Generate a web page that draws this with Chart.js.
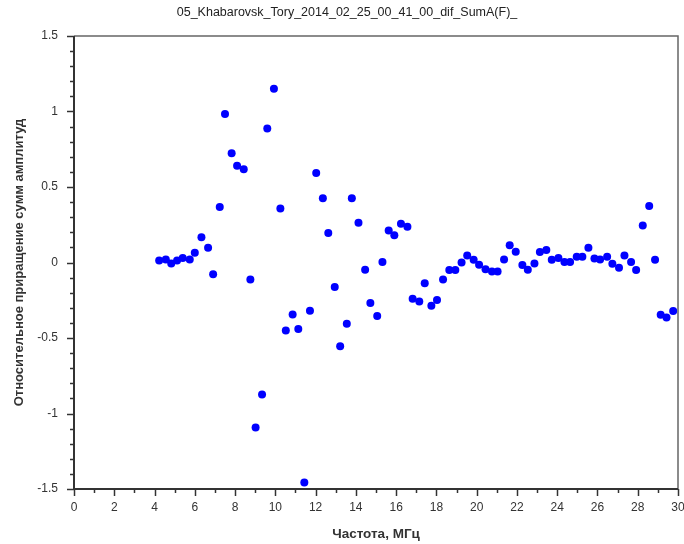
<!DOCTYPE html>
<html>
<head>
<meta charset="utf-8">
<script src="https://cdn.jsdelivr.net/npm/chart.js@4"></script>
<style>
  body { margin: 0; background: #fff; }
  #wrap { width: 684px; height: 544px; }
</style>
</head>
<body>
<div id="wrap"><canvas id="chart" width="684" height="544"></canvas></div>
<script>
// frequency, MHz
const freq = [
  4.23, 4.56, 4.83, 5.12, 5.40, 5.75, 6.00, 6.33, 6.66, 6.91,
  7.24, 7.50, 7.83, 8.10, 8.43, 8.76, 9.02, 9.34, 9.60, 9.93,
  10.25, 10.52, 10.86, 11.14, 11.44, 11.72, 12.03, 12.36, 12.63, 12.95,
  13.22, 13.55, 13.80, 14.13, 14.46, 14.72, 15.06, 15.32, 15.63, 15.91,
  16.24, 16.56, 16.82, 17.15, 17.42, 17.75, 18.03, 18.33, 18.64, 18.94,
  19.25, 19.53, 19.85, 20.12, 20.44, 20.76, 21.04, 21.36, 21.64, 21.94,
  22.27, 22.54, 22.87, 23.14, 23.46, 23.73, 24.06, 24.36, 24.64, 24.97,
  25.25, 25.55, 25.85, 26.13, 26.48, 26.74, 27.07, 27.34, 27.67, 27.92,
  28.25, 28.57, 28.86, 29.14, 29.43, 29.76
];
// relative increment of amplitude sums
const difSum = [
  0.013, 0.020, -0.007, 0.013, 0.030, 0.020, 0.064, 0.168, 0.097, -0.077,
  0.367, 0.983, 0.724, 0.640, 0.618, -0.112, -1.093, -0.874, 0.887, 1.150,
  0.358, -0.450, -0.344, -0.441, -1.457, -0.320, 0.592, 0.426, 0.195, -0.163,
  -0.554, -0.406, 0.426, 0.263, -0.048, -0.269, -0.355, 0.003, 0.212, 0.181,
  0.256, 0.236, -0.240, -0.258, -0.137, -0.287, -0.249, -0.112, -0.050, -0.050,
  0.000, 0.046, 0.018, -0.015, -0.044, -0.060, -0.060, 0.020, 0.115, 0.071,
  -0.017, -0.048, -0.007, 0.069, 0.082, 0.018, 0.029, 0.003, 0.003, 0.038,
  0.038, 0.097, 0.026, 0.020, 0.038, -0.009, -0.035, 0.046, 0.003, -0.050,
  0.245, 0.375, 0.018, -0.346, -0.364, -0.322
];
const xRange = [0, 30];
const yRange = [-1.5, 1.5];
const xMajor = 2, xMinor = 1;
const yMajor = 0.5, yMinor = 0.1;

const chartTitle = '05_Khabarovsk_Tory_2014_02_25_00_41_00_dif_SumA(F)_';
const xTitle = 'Частота, МГц';
const yTitle = 'Относительное приращение сумм амплитуд';

const FONT = '"Liberation Sans", Arial, sans-serif';
const points = freq.map((f, i) => ({ x: f, y: difSum[i] }));

function isMajor(v, step) {
  const r = v / step;
  return Math.abs(r - Math.round(r)) < 1e-6;
}

// frame, axis lines, ticks and the title on top
const framePlugin = {
  id: 'frame',
  afterDraw(chart) {
    const { ctx, chartArea: a, scales } = chart;
    ctx.save();
    ctx.strokeStyle = '#666';
    ctx.lineWidth = 1.5;
    ctx.beginPath();
    ctx.moveTo(a.left, a.top); ctx.lineTo(a.right, a.top); ctx.lineTo(a.right, a.bottom);
    ctx.stroke();

    ctx.strokeStyle = '#333';
    ctx.lineWidth = 2;
    ctx.beginPath();
    ctx.moveTo(a.left, a.top); ctx.lineTo(a.left, a.bottom); ctx.lineTo(a.right, a.bottom);
    ctx.stroke();

    ctx.lineWidth = 1.5;
    scales.x.ticks.forEach(t => {
      const px = Math.round(scales.x.getPixelForValue(t.value)) + 0.5;
      const len = isMajor(t.value, xMajor) ? 7 : 4;
      ctx.beginPath(); ctx.moveTo(px, a.bottom); ctx.lineTo(px, a.bottom + len); ctx.stroke();
    });
    scales.y.ticks.forEach(t => {
      const py = Math.round(scales.y.getPixelForValue(t.value)) + 0.5;
      const len = isMajor(t.value, yMajor) ? 7 : 4;
      ctx.beginPath(); ctx.moveTo(a.left, py); ctx.lineTo(a.left - len, py); ctx.stroke();
    });

    ctx.fillStyle = '#222';
    ctx.font = '12.5px ' + FONT;
    ctx.textAlign = 'center';
    ctx.textBaseline = 'middle';
    ctx.fillText(chartTitle, 347, 13);
    ctx.restore();
  }
};

new Chart(document.getElementById('chart'), {
  type: 'scatter',
  data: {
    datasets: [{
      data: points,
      backgroundColor: '#0000ff',
      borderColor: '#0000ff',
      pointRadius: 4,
      pointBorderWidth: 0
    }]
  },
  options: {
    responsive: false,
    animation: false,
    layout: { padding: { top: 36, right: 6, left: 0, bottom: 0 } },
    plugins: {
      legend: { display: false },
      tooltip: { enabled: false },
      title: { display: false }
    },
    scales: {
      x: {
        type: 'linear',
        min: xRange[0], max: xRange[1],
        afterFit(scale) {
          scale.height = 55;
          scale.paddingLeft = 0;
          scale.paddingRight = 0;
        },
        grid: { display: false, drawTicks: false },
        border: { display: false },
        ticks: {
          stepSize: xMinor,
          autoSkip: false,
          maxRotation: 0,
          padding: 11,
          color: '#333',
          font: { family: FONT, size: 12 },
          callback: v => isMajor(v, xMajor) ? String(Math.round(v)) : ''
        },
        title: {
          display: true,
          text: xTitle,
          color: '#333',
          font: { family: FONT, size: 13.5, weight: 'bold' },
          padding: { top: 0, bottom: 2 }
        }
      },
      y: {
        type: 'linear',
        min: yRange[0], max: yRange[1],
        afterFit(scale) {
          scale.width = 74;
          scale.paddingTop = 0;
          scale.paddingBottom = 0;
        },
        grid: { display: false, drawTicks: false },
        border: { display: false },
        ticks: {
          stepSize: yMinor,
          autoSkip: false,
          padding: 16,
          color: '#333',
          font: { family: FONT, size: 12 },
          callback: v => isMajor(v, yMajor) ? String(Math.round(v * 10) / 10) : ''
        },
        title: {
          display: true,
          text: yTitle,
          color: '#333',
          font: { family: FONT, size: 13, weight: 'bold' },
          padding: { top: 12, bottom: 4 }
        }
      }
    }
  },
  plugins: [framePlugin]
});
</script>
</body>
</html>
